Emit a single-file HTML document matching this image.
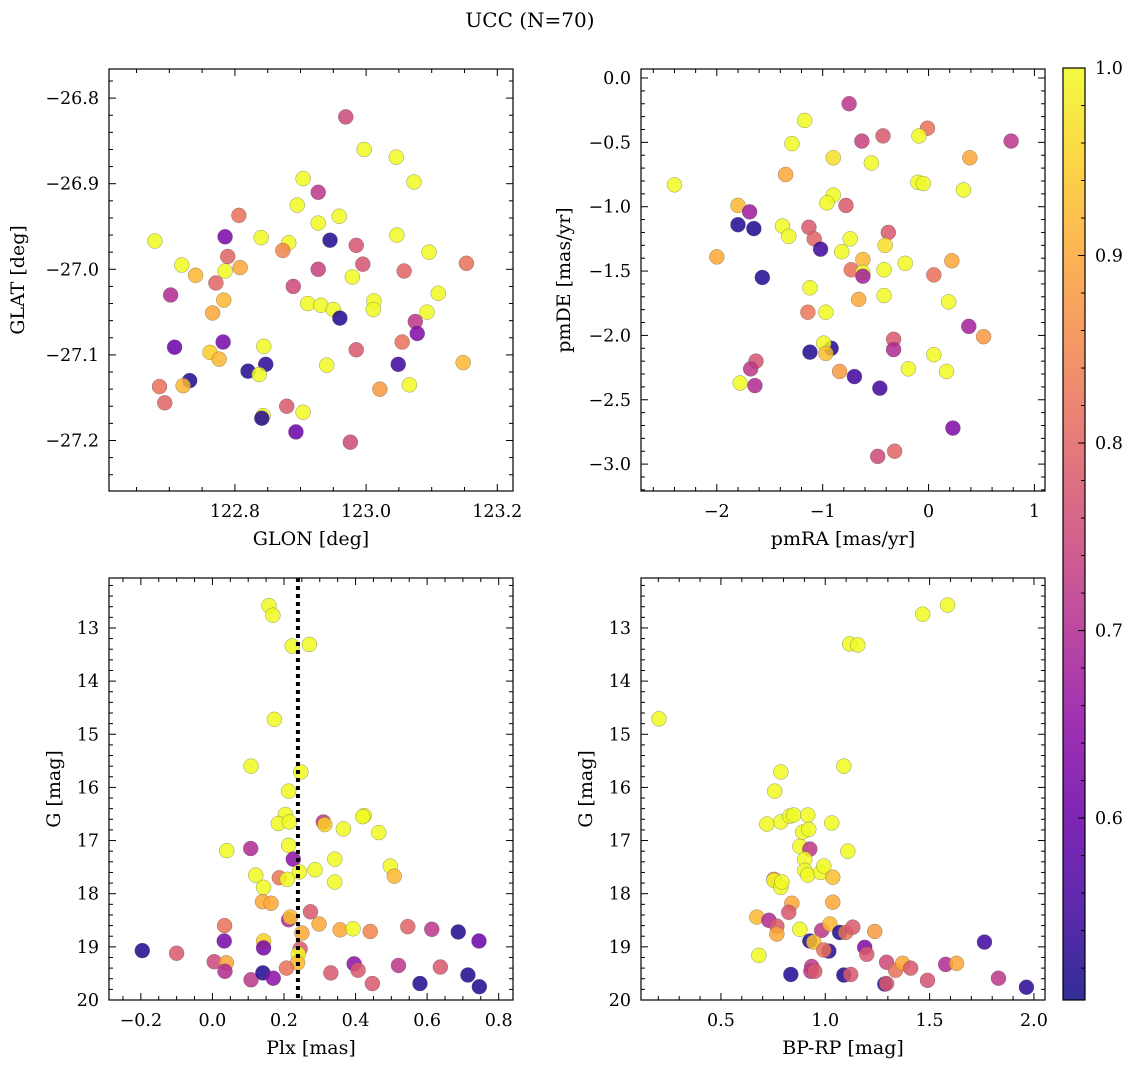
<!DOCTYPE html>
<html><head><meta charset="utf-8"><style>
body{margin:0;background:#fff}
svg text{font-family:"DejaVu Serif","Liberation Serif",serif;fill:#000}
</style></head><body>
<svg id="fig" width="1136" height="1068" viewBox="0 0 1136 1068" xmlns="http://www.w3.org/2000/svg">
<text x="530" y="27" font-size="20" text-anchor="middle">UCC (N=70)</text>
</svg>
<script>
// ---- Panel 1: GLON vs GLAT ----
const glon=[122.969,122.997,123.046,123.073,122.904,122.927,122.895,122.959,122.927,122.806,122.678,122.785,122.840,122.882,122.873,122.945,122.985,123.047,123.096,122.719,122.740,122.785,122.808,122.789,122.927,122.979,122.995,123.058,123.153,122.771,122.702,122.783,122.889,122.911,122.931,122.950,123.012,123.011,123.110,123.093,122.766,122.960,123.075,123.078,123.055,122.782,122.844,122.708,122.985,122.762,122.776,123.049,122.847,122.940,123.148,122.820,122.837,122.731,122.721,122.685,123.066,123.021,122.693,122.879,122.904,122.843,122.841,122.893,122.976];
const glat=[-26.822,-26.860,-26.869,-26.898,-26.894,-26.910,-26.925,-26.938,-26.946,-26.937,-26.967,-26.962,-26.963,-26.969,-26.978,-26.966,-26.972,-26.960,-26.980,-26.995,-27.007,-27.002,-26.998,-26.985,-27.000,-27.009,-26.994,-27.002,-26.993,-27.016,-27.030,-27.036,-27.020,-27.040,-27.042,-27.047,-27.037,-27.047,-27.028,-27.050,-27.051,-27.057,-27.061,-27.075,-27.085,-27.085,-27.090,-27.091,-27.094,-27.097,-27.105,-27.111,-27.111,-27.112,-27.109,-27.119,-27.123,-27.130,-27.136,-27.137,-27.135,-27.140,-27.156,-27.160,-27.167,-27.171,-27.174,-27.190,-27.202];
const prob1=[0.75,1,1,1,1,0.72,1,1,1,0.82,1,0.62,1,1,0.85,0.52,0.77,1,1,1,0.92,1,0.9,0.8,0.74,1,0.77,0.8,0.82,0.8,0.7,0.92,0.75,1,1,1,1,1,1,1,0.9,0.52,0.72,0.63,0.82,0.62,1,0.6,0.78,0.95,0.92,0.55,0.53,1,0.92,0.52,1,0.52,0.92,0.82,1,0.88,0.8,0.78,1,1,0.52,0.6,0.75];
// ---- Panel 2: pmRA vs pmDE ----
const pmra=[-0.75,-1.17,-1.29,-0.63,-0.43,-0.01,-0.09,0.78,-0.90,-0.54,0.39,-1.35,-2.40,-0.10,-0.05,0.33,-0.90,-0.96,-0.78,-1.80,-1.69,-1.80,-1.65,-1.38,-1.32,-1.13,-1.08,-0.38,-0.74,-1.02,-0.41,-0.82,-2.00,-0.62,-0.22,0.22,-0.73,-0.42,-0.62,-0.62,0.05,-1.57,-1.12,-0.42,-0.66,0.19,-1.14,-0.97,0.38,0.52,-0.33,-0.33,-0.92,-0.99,-0.97,-1.12,0.05,-1.63,-1.68,-0.19,0.17,-0.84,-0.70,-1.78,-1.64,-0.46,0.23,-0.32,-0.48];
const pmde=[-0.20,-0.33,-0.51,-0.49,-0.45,-0.39,-0.45,-0.49,-0.62,-0.66,-0.62,-0.75,-0.83,-0.81,-0.82,-0.87,-0.91,-0.97,-0.99,-0.99,-1.04,-1.14,-1.17,-1.15,-1.23,-1.16,-1.25,-1.20,-1.25,-1.33,-1.30,-1.35,-1.39,-1.41,-1.44,-1.42,-1.49,-1.49,-1.51,-1.54,-1.53,-1.55,-1.63,-1.69,-1.72,-1.74,-1.82,-1.82,-1.93,-2.01,-2.03,-2.11,-2.10,-2.06,-2.14,-2.13,-2.15,-2.20,-2.26,-2.26,-2.28,-2.28,-2.32,-2.37,-2.39,-2.41,-2.72,-2.90,-2.94];
const prob2=[0.72,1,1,0.74,0.78,0.82,1,0.72,0.97,1,0.9,0.9,1,1,1,1,1,1,0.78,0.92,0.67,0.52,0.52,1,1,0.78,0.8,0.78,1,0.55,0.97,1,0.9,0.92,1,0.9,0.82,1,1,0.68,0.82,0.52,1,1,0.9,1,0.83,1,0.68,0.88,0.78,0.7,0.52,1,0.93,0.52,1,0.77,0.72,1,1,0.88,0.55,1,0.7,0.55,0.63,0.8,0.75];
// ---- Panel 3: Plx vs G ----
const plx=[0.158,0.169,0.223,0.271,0.173,0.108,0.247,0.213,0.424,0.420,0.204,0.310,0.314,0.184,0.215,0.366,0.465,0.040,0.107,0.213,0.226,0.342,0.243,0.287,0.497,0.508,0.121,0.187,0.209,0.342,0.143,0.140,0.164,0.274,0.213,0.218,0.298,0.034,0.546,0.613,0.357,0.441,0.393,0.687,0.250,0.745,0.143,0.033,0.143,-0.196,0.245,0.240,-0.100,0.005,0.039,0.035,0.238,0.207,0.396,0.407,0.520,0.637,0.108,0.141,0.170,0.331,0.447,0.580,0.714,0.746];
const gmag3=[12.58,12.76,13.34,13.31,14.72,15.60,15.71,16.07,16.53,16.55,16.51,16.65,16.70,16.68,16.65,16.78,16.85,17.19,17.15,17.09,17.35,17.35,17.59,17.55,17.48,17.67,17.65,17.70,17.73,17.78,17.88,18.15,18.18,18.34,18.49,18.44,18.57,18.60,18.62,18.67,18.68,18.71,18.66,18.72,18.74,18.89,18.89,18.89,19.02,19.07,19.04,19.14,19.12,19.28,19.30,19.46,19.30,19.40,19.32,19.44,19.35,19.38,19.62,19.49,19.59,19.49,19.69,19.69,19.53,19.75];
const prob3=[1,1,1,1,1,1,1,1,1,1,1,0.72,0.95,1,1,1,1,1,0.7,1,0.65,1,1,1,1,0.92,1,0.83,1,1,1,0.9,0.9,0.78,0.7,0.93,0.9,0.82,0.8,0.72,0.9,0.85,1,0.52,0.9,0.6,0.95,0.62,0.62,0.52,0.78,1,0.78,0.75,0.9,0.7,0.92,0.82,0.65,0.78,0.72,0.78,0.72,0.52,0.65,0.78,0.78,0.52,0.52,0.52];
// ---- Panel 4: BP-RP vs G ----
const bprp=[1.586,1.467,1.117,1.156,0.203,1.089,0.787,0.758,0.720,0.787,0.830,0.849,0.916,1.031,0.892,0.921,0.878,0.926,1.108,0.902,0.902,0.916,0.978,0.993,1.036,0.754,0.754,0.787,0.792,0.840,1.036,0.825,0.672,0.730,0.768,0.768,0.878,0.983,1.022,1.069,1.098,1.132,1.237,0.926,0.945,1.017,0.993,1.189,1.199,0.682,1.763,1.294,1.337,1.371,1.409,1.577,1.629,0.835,0.935,0.931,0.950,1.089,1.122,1.285,1.294,1.490,1.830,1.964];
const gmag4=[12.57,12.74,13.30,13.32,14.71,15.60,15.71,16.07,16.69,16.65,16.54,16.52,16.52,16.67,16.84,16.79,17.11,17.16,17.20,17.35,17.56,17.65,17.60,17.48,17.69,17.73,17.75,17.88,17.78,18.18,18.16,18.35,18.44,18.50,18.61,18.76,18.67,18.69,18.57,18.73,18.73,18.63,18.71,18.89,18.91,19.08,19.06,19.01,19.14,19.16,18.91,19.29,19.44,19.31,19.40,19.33,19.31,19.52,19.37,19.46,19.46,19.53,19.52,19.70,19.69,19.63,19.59,19.76];
const prob4=[1,1,1,1,1,1,1,1,1,1,1,1,1,1,1,1,1,0.72,1,1,1,1,1,1,0.93,0.83,1,1,1,0.9,0.9,0.78,0.92,0.7,0.78,0.9,1,0.72,0.92,0.52,0.82,0.78,0.88,0.52,0.93,0.53,0.82,0.63,0.78,1,0.55,0.75,0.82,0.9,0.78,0.7,0.9,0.52,0.72,0.72,0.78,0.52,0.78,0.55,0.78,0.77,0.72,0.53];
const plxRef=[0.239];
const cbTicks=[0.6,0.7,0.8,0.9,1.0];
const P_MIN=0.503,P_MAX=1.0;

const NS='http://www.w3.org/2000/svg';
const svg=document.getElementById('fig');
function el(tag,attrs,parent){const e=document.createElementNS(NS,tag);for(const k in attrs)e.setAttribute(k,attrs[k]);(parent||svg).appendChild(e);return e;}
const plasma=[[13,8,135],[65,4,157],[106,0,168],[143,13,164],[177,42,144],[204,71,120],[225,100,98],[242,132,75],[252,166,54],[252,206,37],[240,249,33]];
function cmap(p){let t=(p-P_MIN)/(P_MAX-P_MIN);t=Math.max(0,Math.min(1,t))*10;const i=Math.min(9,Math.floor(t)),f=t-i;const a=plasma[i],b=plasma[i+1];return 'rgb('+a.map((v,k)=>Math.round(v+(b[k]-v)*f)).join(',')+')';}
function fmt(v,dec){return (v<0?'\u2212':'')+Math.abs(v).toFixed(dec);}
const TICKFS=17.5, LABFS=19;

function panel(cfg){
  const g=el('g',{});
  
  
  const {L,T,R,B}=cfg;
  const sx=v=>L+(v-cfg.x0)/(cfg.x1-cfg.x0)*(R-L);
  const sy=v=>T+(v-cfg.y0)/(cfg.y1-cfg.y0)*(B-T);
  const tg=el('g',{stroke:'#000','stroke-width':1},g);
  function ticks(lo,hi,step,sub,isX,labelDec,labelName){
    const a=Math.min(lo,hi),b=Math.max(lo,hi);
    const ms=step/sub;
    for(let k=Math.ceil(a/ms-1e-6);k*ms<=b+1e-9;k++){
      const v=k*ms;const major=Math.abs(Math.round(v/step)*step-v)<1e-6;const len=major?7:4;
      if(isX){const x=sx(v);el('line',{x1:x,x2:x,y1:B,y2:B-len},tg);el('line',{x1:x,x2:x,y1:T,y2:T+len},tg);
        if(major){const t=el('text',{x:x,y:B+26,'font-size':TICKFS,'text-anchor':'middle'},g);t.textContent=fmt(v,labelDec);}}
      else{const y=sy(v);el('line',{x1:L,x2:L+len,y1:y,y2:y},tg);el('line',{x1:R,x2:R-len,y1:y,y2:y},tg);
        if(major){const t=el('text',{x:L-10,y:y+6,'font-size':TICKFS,'text-anchor':'end'},g);t.textContent=fmt(v,labelDec);}}
    }
  }
  ticks(cfg.x0,cfg.x1,cfg.xs,cfg.xsub,true,cfg.xd,'x-tick-label');
  ticks(cfg.y0,cfg.y1,cfg.ys,cfg.ysub,false,cfg.yd,'y-tick-label');
  const pg=el('g',{},g);
  cfg.xv.forEach((xv,i)=>{
    const c=el('circle',{cx:sx(xv),cy:sy(cfg.yv[i]),r:7.5,fill:cmap(cfg.pv[i]),'fill-opacity':0.85,stroke:'#555','stroke-opacity':0.6,'stroke-width':0.5},pg);
    
    
  });
  if(cfg.vline){cfg.vline.forEach(v=>{const l=el('line',{x1:sx(v),x2:sx(v),y1:T,y2:B,stroke:'#000','stroke-width':4,'stroke-dasharray':'4,4'},g);
    
    });}
  const fr=el('rect',{x:L,y:T,width:R-L,height:B-T,fill:'none',stroke:'#000','stroke-width':1.2},g);
  
  
  const xl=el('text',{x:(L+R)/2,y:B+54,'font-size':LABFS,'text-anchor':'middle'},g);xl.textContent=cfg.xl;
  
  
  const yx=cfg.ylx, yy=(T+B)/2;
  const yl=el('text',{x:yx,y:yy,'font-size':LABFS,'text-anchor':'middle',transform:'rotate(-90 '+yx+' '+yy+')'},g);yl.textContent=cfg.yl;
  
  
}
panel({name:'glon-glat-panel',L:109,T:69,R:513,B:491,x0:122.608,x1:123.224,y0:-26.766,y1:-27.259,xs:0.2,xsub:4,ys:0.1,ysub:5,xd:1,yd:1,xv:glon,yv:glat,pv:prob1,xl:'GLON [deg]',yl:'GLAT [deg]',ylx:24});
panel({name:'pm-panel',L:641,T:69,R:1045,B:491,x0:-2.716,x1:1.10,y0:0.070,y1:-3.209,xs:1,xsub:5,ys:0.5,ysub:5,xd:0,yd:1,xv:pmra,yv:pmde,pv:prob2,xl:'pmRA [mas/yr]',yl:'pmDE [mas/yr]',ylx:570});
panel({name:'plx-g-panel',L:109,T:578,R:513,B:1000,x0:-0.289,x1:0.840,y0:12.06,y1:20.0,xs:0.2,xsub:4,ys:1,ysub:5,xd:1,yd:0,xv:plx,yv:gmag3,pv:prob3,xl:'Plx [mas]',yl:'G [mag]',ylx:60,vline:plxRef});
panel({name:'cmd-panel',L:641,T:578,R:1045,B:1000,x0:0.117,x1:2.053,y0:12.06,y1:20.0,xs:0.5,xsub:5,ys:1,ysub:5,xd:1,yd:0,xv:bprp,yv:gmag4,pv:prob4,xl:'BP-RP [mag]',yl:'G [mag]',ylx:592});

const cb=el('g',{});


const defs=el('defs',{},cb);
const lg=el('linearGradient',{id:'pl',x1:0,y1:1,x2:0,y2:0},defs);
for(let i=0;i<=20;i++){const p=P_MIN+(P_MAX-P_MIN)*i/20;el('stop',{offset:i/20,'stop-color':cmap(p),'stop-opacity':0.85},lg);}
const cL=1063,cR=1085,cT=68,cB=1000;
const cy=v=>cB-(v-P_MIN)/(P_MAX-P_MIN)*(cB-cT);
el('rect',{x:cL,y:cT,width:cR-cL,height:cB-cT,fill:'url(#pl)',stroke:'#000','stroke-width':1.2},cb);
for(let k=Math.ceil(P_MIN/0.02);k*0.02<=P_MAX+1e-9;k++){const v=k*0.02;const y=cy(v);el('line',{x1:cR,x2:cR-4,y1:y,y2:y,stroke:'#000','stroke-width':1},cb);}
cbTicks.forEach(v=>{const y=cy(v);el('line',{x1:cR,x2:cR-7,y1:y,y2:y,stroke:'#000','stroke-width':1},cb);
  const t=el('text',{x:cR+10,y:y+6,'font-size':TICKFS},cb);t.textContent=v.toFixed(1);
  
  });
</script>
</body></html>
